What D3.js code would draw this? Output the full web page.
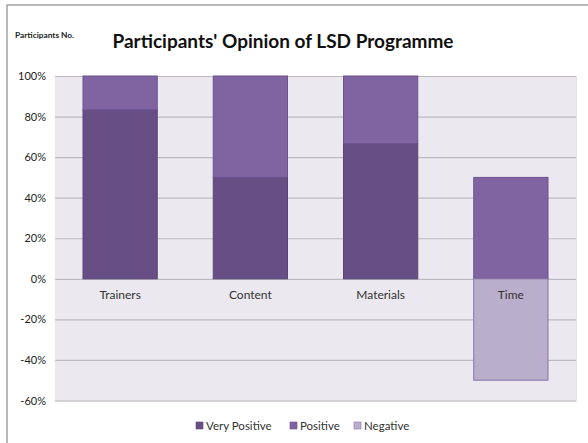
<!DOCTYPE html>
<html>
<head>
<meta charset="utf-8">
<script src="https://cdn.jsdelivr.net/npm/d3@7"></script>
<style>
  body { margin: 0; background: #fff; }
  text { font-family: Lato, "Open Sans", sans-serif; }
</style>
</head>
<body>
<script>
// DATA
const categories = ["Trainers", "Content", "Materials", "Time"];
const veryPositive = [83.3, 50, 66.7, 0];
const positive = [16.7, 50, 33.3, 50];
const negative = [0, 0, 0, -50];
const yTicks = [-60, -40, -20, 0, 20, 40, 60, 80, 100];
const seriesNames = ["Very Positive", "Positive", "Negative"];

// CHART
const W = 588, H = 443;
const plot = {left: 55, right: 576, top: 76, bottom: 400.5};
const colors = ["#674f86", "#8064a2", "#b9aecb"];
const strokes = ["#5a4577", "#6c5290", "#8a72a8"];

const svg = d3.select("body").append("svg")
  .attr("width", W)
  .attr("height", H);

// outer frame
svg.append("rect")
  .attr("x", 7).attr("y", 5)
  .attr("width", 600).attr("height", 460)
  .attr("fill", "#fff")
  .attr("stroke", "#8c8c8c")
  .attr("stroke-width", 1.2);

const xScale = d3.scaleBand()
  .domain(categories)
  .range([plot.left, plot.right])
  .paddingInner(0.43)
  .paddingOuter(0.215);

const yScale = d3.scaleLinear()
  .domain([-60, 100])
  .range([plot.bottom, plot.top]);

svg.append("rect")
  .attr("x", plot.left).attr("y", plot.top)
  .attr("width", plot.right - plot.left)
  .attr("height", plot.bottom - plot.top)
  .attr("fill", "#ebe8ef");

// plot bottom shadow
svg.append("line")
  .attr("x1", plot.left).attr("x2", plot.right + 1)
  .attr("y1", plot.bottom + 0.5).attr("y2", plot.bottom + 0.5)
  .attr("stroke", "#d6d3da");

svg.append("line")
  .attr("x1", plot.right + 0.5).attr("x2", plot.right + 0.5)
  .attr("y1", plot.top).attr("y2", plot.bottom)
  .attr("stroke", "#e4e1e8");

const yAxis = d3.axisLeft(yScale)
  .tickValues(yTicks)
  .tickSize(-(plot.right - plot.left))
  .tickFormat(d => d + "%");

const gy = svg.append("g")
  .attr("transform", `translate(${plot.left},0)`)
  .call(yAxis);
gy.select(".domain").remove();
gy.selectAll(".tick line").attr("stroke", "#bdbac1").attr("stroke-width", 1.2);
gy.selectAll(".tick text")
  .attr("x", -9)
  .attr("fill", "#222")
  .style("font-size", "11px");

// bars
const series = [veryPositive, positive, negative];
series.forEach((vals, s) => {
  svg.append("g").selectAll("rect")
    .data(vals.map((v, i) => {
      let y0 = 0;
      if (s === 1) y0 = veryPositive[i];
      return {cat: categories[i], y0: y0, y1: y0 + v};
    }).filter(d => d.y1 !== d.y0))
    .enter().append("rect")
    .attr("x", d => xScale(d.cat))
    .attr("width", xScale.bandwidth())
    .attr("y", d => yScale(Math.max(d.y0, d.y1)))
    .attr("height", d => Math.abs(yScale(d.y0) - yScale(d.y1)))
    .attr("fill", colors[s])
    .attr("stroke", strokes[s])
    .attr("stroke-width", 1);
});

// category labels
const xAxis = d3.axisBottom(xScale).tickSize(0).tickPadding(12);
const gx = svg.append("g")
  .attr("transform", `translate(0,${yScale(0)})`)
  .call(xAxis);
gx.select(".domain").remove();
gx.selectAll(".tick text")
  .attr("fill", "#333")
  .style("font-size", "12px");

// titles
svg.append("text")
  .text("Participants' Opinion of LSD Programme")
  .attr("x", 283).attr("y", 48)
  .attr("text-anchor", "middle")
  .attr("fill", "#111")
  .style("font-size", "19px")
  .style("font-weight", "bold");

svg.append("text")
  .text("Participants No.")
  .attr("x", 15).attr("y", 38)
  .attr("fill", "#222")
  .style("font-size", "8.3px")
  .style("font-weight", "bold");

// legend
const legendX = [196, 290, 354];
const legend = svg.append("g");
seriesNames.forEach((name, i) => {
  legend.append("rect")
    .attr("x", legendX[i]).attr("y", 422)
    .attr("width", 7).attr("height", 7)
    .attr("fill", colors[i])
    .attr("stroke", strokes[i])
    .attr("stroke-width", 0.6);
  legend.append("text")
    .text(name)
    .attr("x", legendX[i] + 10).attr("y", 430)
    .attr("fill", "#333")
    .style("font-size", "11.5px");
});
</script>
</body>
</html>
